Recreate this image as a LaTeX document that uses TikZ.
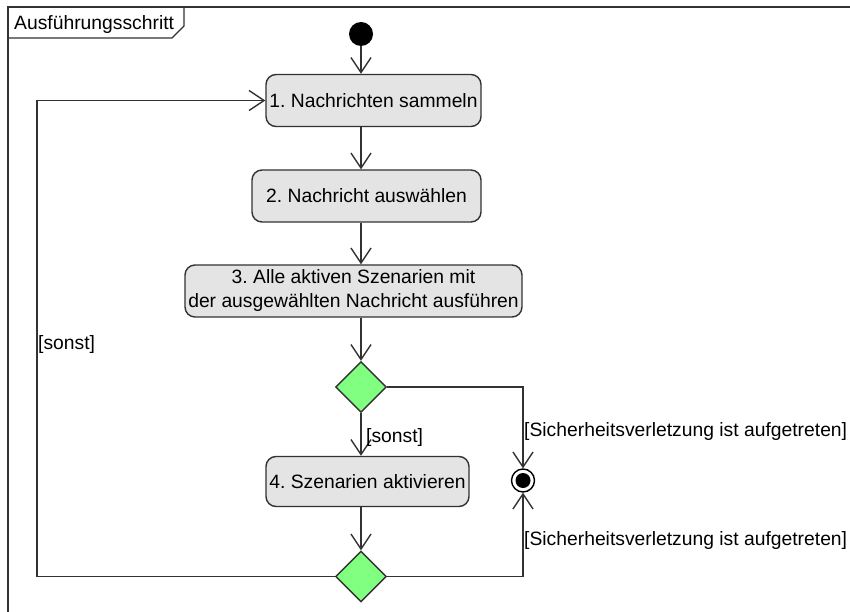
\documentclass[tikz,border=0pt]{standalone}
\usepackage{fontspec}
\setmainfont{Liberation Sans}
\usetikzlibrary{arrows.meta,shapes.geometric}
\frenchspacing
\definecolor{linegray}{RGB}{50,50,50}
\definecolor{actfill}{RGB}{228,228,228}
\definecolor{decfill}{RGB}{128,255,128}
\tikzset{
  every node/.style={font=\fontsize{19.3}{24}\selectfont},
  action/.style={draw=linegray, line width=1.4pt, fill=actfill, rounded corners=10pt,
    inner sep=0pt, align=center},
  decision/.style={draw=linegray, line width=1.4pt, fill=decfill, diamond, aspect=1,
    inner sep=0pt, minimum width=51pt, minimum height=51pt},
  flow/.style={draw=linegray, line width=1.4pt,
    -{Straight Barb[length=15pt,width=20pt,line width=1.4pt]}},
  guard/.style={inner sep=0pt, anchor=west},
  framebox/.style={draw=linegray, line width=1.4pt},
}
\begin{document}
\begin{tikzpicture}[x=1pt,y=-1pt]
  \useasboundingbox (0,0) rectangle (850,612);
  \fill[white] (0,0) rectangle (850,612);

  % activity frame with its name tab
  \draw[framebox] (8,612) -- (8,7) -- (850,7);
  \draw[framebox] (8,38) -- (172,38) -- (184,26) -- (184,7);
  \node[anchor=base west, inner sep=0pt] (title) at (14,30) {Ausführungsschritt};

  % nodes
  \node[circle, fill=black, inner sep=0pt, minimum size=24pt] (start) at (361,34) {};
  \node[action, minimum width=215pt, minimum height=52pt] (n1) at (373.5,100.5) {1. Nachrichten sammeln};
  \node[action, minimum width=229pt, minimum height=52pt] (n2) at (366.5,196) {2. Nachricht auswählen};
  \node[action, minimum width=337pt, minimum height=52pt] (n3) at (353.5,291) {3. Alle aktiven Szenarien mit\\der ausgewählten Nachricht ausführen};
  \node[decision] (d1) at (361,387) {};
  \node[action, minimum width=203pt, minimum height=50pt] (n4) at (367.5,481.5) {4. Szenarien aktivieren};
  \node[decision] (d2) at (361,576.5) {};
  \node[circle, draw=black, line width=1.4pt, fill=white, inner sep=0pt, minimum size=23pt] (fin) at (523,480.5) {};
  \node[circle, fill=black, inner sep=0pt, minimum size=15pt] (finc) at (fin) {};
  \coordinate (loop) at (37,345);

  % control flow
  \draw[flow] (start.south) -- (start.south |- n1.north);
  \draw[flow] (n1.south -| start) -- (n2.north -| start);
  \draw[flow] (n2.south -| start) -- (n3.north -| start);
  \draw[flow] (n3.south -| start) -- (d1.north);
  \draw[flow] (d1.south) -- (n4.north -| d1);
  \draw[flow] (n4.south -| d2) -- (d2.north);
  \draw[flow] (d1.east) -| (fin.north);
  \draw[flow] (d2.east) -| (fin.south);
  \draw[flow] (d2.west) -- (d2.west -| loop) |- (n1.west);

  % guards
  \node[guard] (g1) at (366,438) {[sonst]};
  \node[guard] (g2) at (524,432) {[Sicherheitsverletzung ist aufgetreten]};
  \node[guard] (g3) at (524,541) {[Sicherheitsverletzung ist aufgetreten]};
  \node[guard] (g4) at (38,345) {[sonst]};
\end{tikzpicture}
\end{document}
